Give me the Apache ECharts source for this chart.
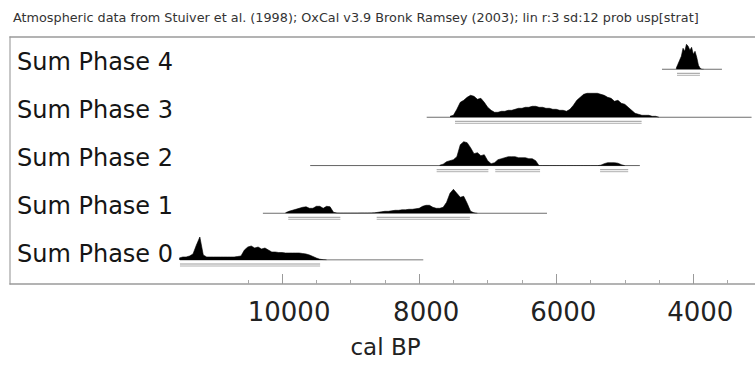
<!DOCTYPE html>
<html>
<head>
<meta charset="utf-8">
<script src="https://cdn.jsdelivr.net/npm/echarts@6/dist/echarts.min.js"></script>
<style>
  html, body { margin: 0; padding: 0; background: #fff; }
  #chart { width: 755px; height: 367px; }
</style>
</head>
<body>
<div id="chart"></div>
<script>
// ---- data -------------------------------------------------------------
const headerText = 'Atmospheric data from Stuiver et al. (1998); OxCal v3.9 Bronk Ramsey (2003); lin r:3 sd:12 prob usp[strat]';
const axisTitle = 'cal BP';
const phaseNames = ['Sum Phase 0', 'Sum Phase 1', 'Sum Phase 2', 'Sum Phase 3', 'Sum Phase 4'];

// oldest sampled year (cal BP) of each summed distribution and its sampling step
const densityStart = [11500, 9950, 7700, 7550, 4250];
const densityStep = [50, 50, 50, 50, 25];

// relative probability, oldest to youngest
const phase0Density = [2, 3, 3, 4, 6, 15, 23, 5, 3, 3, 3, 3, 3, 3, 3, 3, 3, 3.5, 4, 10, 13, 14, 12, 13, 11, 12, 10, 8, 8, 7.5, 7.5, 7, 7, 7, 7, 7, 6.5, 6, 5, 3.5, 2, 0.8, 0.3, 0];
const phase1Density = [0.5, 2, 3, 4, 5, 6, 6.5, 5, 5, 7, 7, 5, 7, 6.5, 1, 0.3, 0.2, 0.2, 0.2, 0.2, 0.2, 0.2, 0.3, 0.3, 0.3, 0.4, 0.5, 1, 1.5, 2, 2, 2.5, 3, 3, 3.5, 3.5, 4, 4, 4.5, 5, 7, 8, 8, 6, 5, 5, 6, 11, 20, 24, 20, 16, 17, 10, 2, 0.5, 0];
const phase2Density = [0.5, 1.5, 4, 5, 6, 9, 21, 24, 23, 18, 12, 13, 10, 11, 5, 2, 3, 6, 7, 8, 9, 9, 9, 8, 8, 8, 7, 7, 5, 0, 0, 0, 0, 0, 0, 0, 0, 0, 0, 0, 0, 0, 0, 0, 0, 0, 0, 0.5, 2, 3, 3, 3, 2.5, 1, 0];
const phase3Density = [1, 2, 8, 15, 17, 20, 22, 21, 18, 19, 15, 10, 7, 5, 5, 6, 6, 7, 7, 8, 9, 9, 10, 10, 11, 11, 10, 10, 9, 9, 8, 8, 7, 7, 6, 8, 12, 17, 20, 23, 24, 24, 24, 24, 23, 22, 20, 19, 16, 17, 14, 13, 10, 7, 4, 3, 2, 2, 2, 1, 1, 0];
const phase4Density = [1, 5, 9, 13, 21, 18, 25, 23, 19, 22, 15, 18, 12, 4, 1, 0, 0];
const densities = [phase0Density, phase1Density, phase2Density, phase3Density, phase4Density];

// extent of each row's baseline, cal BP
const spans = [[11490, 7940], [10280, 6135], [9590, 4780], [7890, 3150], [4457, 3582]];

// highest-probability ranges drawn under each row, cal BP
const ranges = [
  [[11490, 9445]],
  [[9910, 9150], [8620, 7260]],
  [[7745, 6990], [6890, 6236], [5360, 4950]],
  [[7477, 4754]],
  [[4238, 3903]]
];

const majorTicks = [10000, 8000, 6000, 4000];
const minorTicks = [10500, 9500, 9000, 8500, 7500, 7000, 6500, 5500, 5000, 4500, 3500];

// ---- layout -----------------------------------------------------------
const AXIS_MIN = 3100, AXIS_MAX = 13970;
const CHART_H = 367;
const rowBaseline = [260, 213.3, 165.7, 117.3, 69.3];
const ROW_H = 30;            // one probability unit per pixel
const FRAME_TOP = 37, FRAME_BOTTOM = 284;
const FONT = 'DejaVu Sans';

const grids = [], xAxes = [], yAxes = [], series = [];

phaseNames.forEach((name, i) => {
  grids.push({ left: 10, right: 0, bottom: CHART_H - rowBaseline[i], height: ROW_H });
  xAxes.push({ gridIndex: i, type: 'value', min: AXIS_MIN, max: AXIS_MAX, inverse: true, show: false });
  yAxes.push({ gridIndex: i, type: 'value', min: 0, max: ROW_H, show: false });

  // baseline of the row
  series.push({
    type: 'line', xAxisIndex: i, yAxisIndex: i, silent: true, showSymbol: false,
    data: [[spans[i][0], 0], [spans[i][1], 0]],
    lineStyle: { color: '#4a4a4a', width: 1 }, z: 2
  });

  // summed probability distribution
  series.push({
    type: 'line', name, xAxisIndex: i, yAxisIndex: i, silent: true, showSymbol: false,
    data: densities[i].map((v, k) => [densityStart[i] - k * densityStep[i], v]),
    lineStyle: { color: '#000', width: 0.6 },
    areaStyle: { color: '#000', opacity: 1 }, z: 3
  });

  // probability ranges beneath the baseline
  series.push({
    type: 'custom', xAxisIndex: i, yAxisIndex: i, silent: true,
    data: ranges[i],
    renderItem: (params, api) => {
      const a = api.coord([api.value(0), 0]);
      const b = api.coord([api.value(1), 0]);
      return {
        type: 'group',
        children: [
          { type: 'line', shape: { x1: a[0], y1: a[1] + 4, x2: b[0], y2: b[1] + 4 }, style: { stroke: '#9a9a9a', lineWidth: 1 } },
          { type: 'line', shape: { x1: a[0], y1: a[1] + 6, x2: b[0], y2: b[1] + 6 }, style: { stroke: '#b0b0b0', lineWidth: 1 } }
        ]
      };
    },
    z: 2
  });
});

// frame with the time axis
const F = phaseNames.length;
grids.push({ left: 10, right: 0, top: FRAME_TOP, bottom: CHART_H - FRAME_BOTTOM });
xAxes.push({
  gridIndex: F, type: 'value', min: AXIS_MIN, max: AXIS_MAX, inverse: true, position: 'bottom',
  axisLine: { lineStyle: { color: '#9a9a9a', width: 1.5 } },
  axisTick: { inside: true, length: 10, customValues: majorTicks, lineStyle: { color: '#9a9a9a' } },
  axisLabel: {
    customValues: majorTicks, formatter: v => String(v),
    fontFamily: FONT, fontSize: 26, color: '#222', margin: 15, padding: [0, 0, 0, 14]
  },
  splitLine: { show: false },
  name: axisTitle, nameLocation: 'middle', nameGap: 51,
  nameTextStyle: { fontFamily: FONT, fontSize: 23, color: '#222', padding: [0, 0, 0, 6] }
});
xAxes.push({
  gridIndex: F, type: 'value', min: AXIS_MIN, max: AXIS_MAX, inverse: true, position: 'bottom',
  axisLine: { show: false },
  axisTick: { inside: true, length: 4, customValues: minorTicks, lineStyle: { color: '#a8a8a8' } },
  axisLabel: { show: false }, splitLine: { show: false }
});
xAxes.push({
  gridIndex: F, type: 'value', min: AXIS_MIN, max: AXIS_MAX, inverse: true, position: 'top',
  axisLine: { lineStyle: { color: '#9a9a9a', width: 1.5 } },
  axisTick: { show: false }, axisLabel: { show: false }, splitLine: { show: false }
});
yAxes.push({
  gridIndex: F, type: 'value', min: 0, max: 1,
  axisLine: { show: true, lineStyle: { color: '#b5b5b5', width: 1.5 } },
  axisTick: { show: false }, axisLabel: { show: false }, splitLine: { show: false }
});

// row names
const L = F + 1;
grids.push({ left: 10, right: 0, top: 38, height: 240 });
xAxes.push({ gridIndex: L, type: 'value', min: AXIS_MIN, max: AXIS_MAX, show: false });
yAxes.push({
  gridIndex: L, type: 'category', data: phaseNames,
  axisLine: { show: false }, axisTick: { show: false }, splitLine: { show: false },
  axisLabel: { inside: true, margin: 7, fontFamily: FONT, fontSize: 24, color: '#151515' }
});

const chart = echarts.init(document.getElementById('chart'), null, { renderer: 'svg' });
chart.setOption({
  animation: false,
  backgroundColor: '#fff',
  title: {
    text: headerText, left: 8, top: 6,
    textStyle: { fontFamily: FONT, fontSize: 12.8, fontWeight: 'normal', color: '#333' }
  },
  grid: grids,
  xAxis: xAxes,
  yAxis: yAxes,
  series
});
</script>
</body>
</html>
